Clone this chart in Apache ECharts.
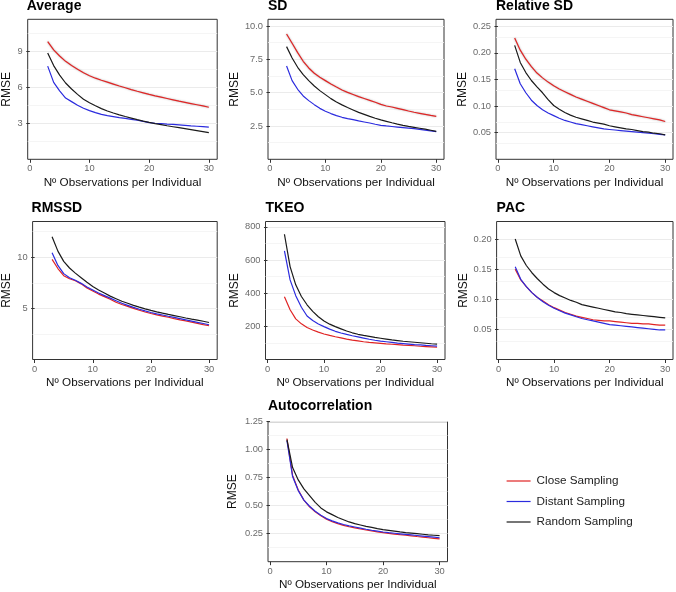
<!DOCTYPE html>
<html><head><meta charset="utf-8">
<script src="https://cdn.jsdelivr.net/npm/echarts@6/dist/echarts.min.js"></script>
<style>html,body{margin:0;padding:0;background:#fff}#c{width:676px;height:592px}</style>
</head><body><div id="c"></div>
<script>
// ---------- data ----------
const obsPerIndividual = [3,4,5,6,7,8,9,10,11,12,13,14,15,16,17,18,19,20,21,22,23,24,25,26,27,28,29,30];
const xTickValues = [0,10,20,30];
const seriesNames = ['Close Sampling','Distant Sampling','Random Sampling'];
const panelTitles = ['Average','SD','Relative SD','RMSSD','TKEO','PAC','Autocorrelation'];
const xAxisTitle = 'Nº Observations per Individual';
const yAxisTitle = 'RMSE';

const averageClose   = [9.8,9.1,8.6,8.15,7.8,7.5,7.2,6.95,6.75,6.58,6.42,6.26,6.1,5.95,5.8,5.66,5.53,5.4,5.28,5.17,5.06,4.95,4.84,4.74,4.64,4.54,4.44,4.33];
const averageDistant = [7.75,6.4,5.7,5.1,4.8,4.5,4.25,4.05,3.88,3.74,3.63,3.55,3.47,3.4,3.33,3.25,3.15,3.05,3.0,2.97,2.93,2.9,2.86,2.82,2.78,2.75,2.72,2.68];
const averageRandom  = [8.85,7.8,7.0,6.35,5.85,5.4,5.0,4.7,4.45,4.22,4.02,3.85,3.7,3.56,3.43,3.3,3.18,3.07,2.97,2.88,2.79,2.71,2.63,2.55,2.47,2.39,2.31,2.22];
const averageTicks = [3,6,9];
const averageMinor = [1.5,4.5,7.5,10.5];

const sdClose   = [9.4,8.7,8.0,7.35,6.85,6.45,6.15,5.9,5.65,5.42,5.2,5.02,4.86,4.7,4.56,4.42,4.28,4.12,4.0,3.92,3.82,3.72,3.62,3.53,3.45,3.37,3.29,3.22];
const sdDistant = [7.0,5.9,5.25,4.75,4.4,4.1,3.82,3.6,3.43,3.28,3.15,3.05,2.97,2.88,2.8,2.72,2.63,2.55,2.5,2.46,2.42,2.38,2.34,2.3,2.25,2.19,2.13,2.07];
const sdRandom  = [8.45,7.6,6.9,6.35,5.9,5.5,5.15,4.85,4.55,4.3,4.08,3.88,3.7,3.52,3.37,3.22,3.08,2.96,2.85,2.74,2.64,2.55,2.47,2.4,2.33,2.26,2.18,2.1];
const sdTicks = [2.5,5,7.5,10];
const sdMinor = [1.25,3.75,6.25,8.75];

const relSdClose   = [0.228,0.205,0.188,0.174,0.162,0.153,0.145,0.138,0.132,0.127,0.122,0.117,0.113,0.109,0.105,0.101,0.097,0.093,0.091,0.089,0.087,0.084,0.082,0.08,0.078,0.076,0.074,0.071];
const relSdDistant = [0.17,0.142,0.125,0.111,0.101,0.093,0.087,0.082,0.077,0.073,0.07,0.067,0.065,0.063,0.061,0.059,0.057,0.056,0.055,0.054,0.053,0.052,0.051,0.05,0.049,0.048,0.047,0.046];
const relSdRandom  = [0.214,0.182,0.163,0.148,0.136,0.125,0.112,0.101,0.094,0.088,0.083,0.079,0.076,0.073,0.07,0.068,0.066,0.063,0.061,0.059,0.057,0.056,0.054,0.052,0.051,0.049,0.048,0.046];
const relSdTicks = [0.05,0.10,0.15,0.20,0.25];
const relSdMinor = [0.025,0.075,0.125,0.175,0.225];

const rmssdClose   = [9.8,8.9,8.2,7.9,7.7,7.4,7.0,6.7,6.4,6.15,5.9,5.6,5.38,5.2,5.0,4.82,4.65,4.5,4.37,4.25,4.13,4.0,3.88,3.77,3.65,3.53,3.41,3.3];
const rmssdDistant = [10.45,9.2,8.4,8.0,7.75,7.45,7.1,6.8,6.5,6.25,6.0,5.75,5.5,5.3,5.1,4.92,4.75,4.6,4.47,4.35,4.23,4.12,4.0,3.88,3.76,3.64,3.52,3.4];
const rmssdRandom  = [12.0,10.6,9.6,8.95,8.45,8.0,7.55,7.15,6.8,6.5,6.2,5.95,5.7,5.5,5.3,5.12,4.95,4.8,4.66,4.53,4.41,4.3,4.18,4.06,3.95,3.85,3.74,3.62];
const rmssdTicks = [5,10];
const rmssdMinor = [2.5,7.5,12.5];

const tkeoClose   = [378,300,245,215,193,178,165,154,145,137,130,123,117,112,107,103,100,97,94,92,90,87,85,83,80,78,76,74];
const tkeoDistant = [655,480,385,315,262,235,214,198,183,170,160,151,143,136,129,122,116,111,107,103,99,96,93,90,88,85,83,81];
const tkeoRandom  = [755,560,450,380,330,290,258,232,213,198,185,172,161,152,145,139,133,128,123,118,114,110,107,104,101,98,95,93];
const tkeoTicks = [200,400,600,800];
const tkeoMinor = [100,300,500,700];

const pacClose   = [0.150,0.132,0.121,0.111,0.103,0.097,0.091,0.086,0.082,0.078,0.075,0.072,0.070,0.068,0.066,0.065,0.064,0.064,0.063,0.062,0.061,0.060,0.060,0.059,0.059,0.058,0.057,0.057];
const pacDistant = [0.154,0.133,0.121,0.111,0.103,0.096,0.090,0.085,0.081,0.077,0.074,0.071,0.068,0.066,0.064,0.062,0.060,0.058,0.057,0.056,0.055,0.054,0.053,0.052,0.051,0.050,0.049,0.049];
const pacRandom  = [0.200,0.172,0.156,0.144,0.134,0.125,0.117,0.111,0.106,0.102,0.098,0.095,0.091,0.089,0.087,0.085,0.083,0.081,0.079,0.078,0.076,0.075,0.074,0.073,0.072,0.071,0.070,0.069];
const pacTicks = [0.05,0.10,0.15,0.20];
const pacMinor = [0.025,0.075,0.125,0.175,0.225];

const acClose   = [1.10,0.77,0.64,0.55,0.49,0.445,0.41,0.38,0.358,0.34,0.325,0.312,0.302,0.292,0.283,0.275,0.267,0.26,0.253,0.247,0.241,0.236,0.231,0.225,0.22,0.214,0.208,0.203];
const acDistant = [1.08,0.76,0.635,0.55,0.495,0.45,0.415,0.385,0.365,0.347,0.332,0.32,0.31,0.30,0.29,0.281,0.273,0.265,0.259,0.254,0.249,0.244,0.239,0.234,0.229,0.224,0.219,0.214];
const acRandom  = [1.09,0.84,0.73,0.65,0.59,0.53,0.48,0.445,0.42,0.395,0.375,0.355,0.34,0.328,0.316,0.306,0.296,0.287,0.28,0.273,0.266,0.26,0.255,0.25,0.245,0.24,0.236,0.232];
const acTicks = [0.25,0.50,0.75,1.00,1.25];
const acMinor = [0.125,0.375,0.625,0.875,1.125];

// ---------- layout / styles ----------
const FONT = '"Liberation Sans", Arial, Helvetica, sans-serif';
const lineColors = ['#e02424','#2b2bde','#1a1a1a'];

const panels = [
  {data:[averageClose,averageDistant,averageRandom], major:averageTicks, minor:averageMinor, yMax:11.65, dec:0, box:[26.7,19.3,217.2,159.3], gap:14.7, tTop:-0.5, halo:true},
  {data:[sdClose,sdDistant,sdRandom], major:sdTicks, minor:sdMinor, yMax:10.5, dec:1, box:[268,19.3,444,159.3], gap:27, tTop:-0.5, halo:true},
  {data:[relSdClose,relSdDistant,relSdRandom], major:relSdTicks, minor:relSdMinor, yMax:0.263, dec:2, box:[496,19.3,673,159.3], gap:26, tTop:-0.5, halo:true},
  {data:[rmssdClose,rmssdDistant,rmssdRandom], major:rmssdTicks, minor:rmssdMinor, yMax:13.5, dec:0, box:[31.6,221.5,217.2,359.5], gap:19.6, tTop:201, halo:false},
  {data:[tkeoClose,tkeoDistant,tkeoRandom], major:tkeoTicks, minor:tkeoMinor, yMax:832, dec:0, box:[265.5,221.5,445,359.5], gap:24.5, tTop:201, halo:false},
  {data:[pacClose,pacDistant,pacRandom], major:pacTicks, minor:pacMinor, yMax:0.229, dec:2, box:[496.6,221.5,673,359.5], gap:26.5, tTop:201, halo:false},
  {data:[acClose,acDistant,acRandom], major:acTicks, minor:acMinor, yMax:1.25, dec:2, box:[268,421.7,447.5,561.7], gap:29.5, tTop:399.5, halo:false}
];

const grid = [], xAxis = [], yAxis = [], series = [], title = [];
panels.forEach((p, i) => {
  const [l, t, r, b] = p.box;
  grid.push({left:l, top:t, width:r-l, height:b-t, show:true, borderColor:'#333', borderWidth:1, backgroundColor:'transparent'});
  title.push({text:panelTitles[i], left:l, top:p.tTop, padding:0,
    textStyle:{fontSize:14, fontWeight:'bold', color:'#000', fontFamily:FONT}});
  xAxis.push({type:'value', gridIndex:i, min:-0.35, max:31.4,
    axisLine:{show:false}, splitLine:{show:false},
    axisTick:{show:true, customValues:xTickValues, length:3.5, lineStyle:{color:'#333', width:1}},
    axisLabel:{customValues:xTickValues, margin:5, fontSize:9.3, color:'#6b6b6b', fontFamily:FONT},
    name:xAxisTitle, nameLocation:'middle', nameGap:17,
    nameTextStyle:{fontSize:11.7, color:'#111', fontFamily:FONT}});
  yAxis.push({type:'value', gridIndex:i, min:0, max:p.yMax,
    axisLine:{show:false}, splitLine:{show:false},
    axisTick:{show:true, customValues:p.major, length:3.5, lineStyle:{color:'#333', width:1}},
    axisLabel:{customValues:p.major, formatter:(v)=>Number(v).toFixed(p.dec), margin:5, fontSize:9.3, color:'#6b6b6b', fontFamily:FONT},
    name:yAxisTitle, nameLocation:'middle', nameGap:p.gap,
    nameTextStyle:{fontSize:12, color:'#111', fontFamily:FONT}});
  // horizontal gridlines (major + minor) placed through the y scale, kept behind the curves
  series.push({type:'line', xAxisIndex:i, yAxisIndex:i, data:[[obsPerIndividual[0], p.major[0]]],
    symbol:'none', lineStyle:{opacity:0}, silent:true, z:0, animation:false,
    markLine:{silent:true, z:0, zlevel:0, symbol:['none','none'], label:{show:false}, animation:false,
      emphasis:{disabled:true},
      data: p.major.map(v=>({yAxis:v, lineStyle:{color:'#ebebeb', width:1, type:'solid'}}))
        .concat(p.minor.map(v=>({yAxis:v, lineStyle:{color:'#f3f3f3', width:0.8, type:'solid'}})))}});
  p.data.forEach((arr, k) => {
    const ls = {color:lineColors[k], width:1.2};
    if (p.halo && k === 0) { ls.shadowColor = 'rgba(0,0,0,0.35)'; ls.shadowBlur = 2; }
    series.push({name:seriesNames[k], type:'line', xAxisIndex:i, yAxisIndex:i,
      data: obsPerIndividual.map((x, j) => [x, arr[j]]),
      symbol:'none', showSymbol:false, smooth:false, z:5, animation:false,
      lineStyle:ls, itemStyle:{color:lineColors[k]}});
  });
});

const chart = echarts.init(document.getElementById('c'), null, {renderer:'canvas'});
chart.setOption({
  animation:false,
  backgroundColor:'#fff',
  title, grid, xAxis, yAxis, series,
  legend:{data:seriesNames, orient:'vertical', left:501, top:470, itemWidth:24, itemHeight:14, itemGap:8.5,
    itemStyle:{opacity:0}, lineStyle:{width:1.2, shadowBlur:0, shadowColor:'transparent'},
    textStyle:{fontSize:11.7, color:'#222', fontFamily:FONT, padding:[0,0,0,1]}}
});
</script></body></html>
